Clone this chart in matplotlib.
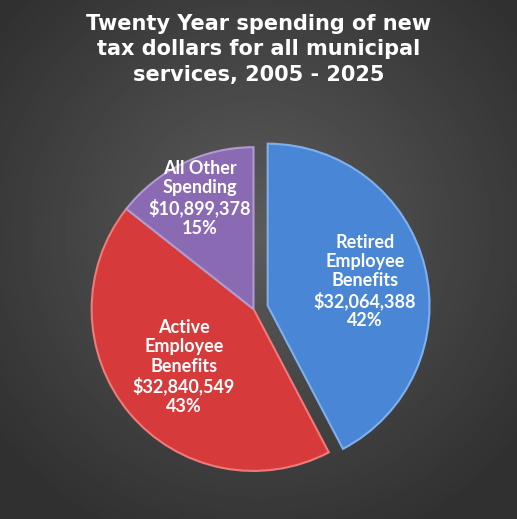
import numpy as np
import matplotlib.pyplot as plt

categories = ["Retired\nEmployee\nBenefits", "Active\nEmployee\nBenefits", "All Other\nSpending"]
amounts = [32064388, 32840549, 10899378]
percents = ["42%", "43%", "15%"]
colors = ["#4a86d6", "#d63a3a", "#8a6bb3"]
edges = ["#7fb0ee", "#ee7a7a", "#b09ad0"]
label_r = [0.62, 0.56, 0.76]

fig = plt.figure(figsize=(5.17, 5.19), dpi=100)

# radial grey background
bg = fig.add_axes([0, 0, 1, 1])
yy, xx = np.mgrid[-1:1:300j, -1:1:300j]
rr = np.sqrt(xx**2 + (yy + 0.1)**2)
bg.imshow(0.36 - 0.17 * np.clip(rr / 1.3, 0, 1), cmap="gray", vmin=0, vmax=1,
          extent=[0, 1, 0, 1], aspect="auto")
bg.axis("off")

fig.text(0.5, 0.905, "Twenty Year spending of new\ntax dollars for all municipal\nservices, 2005 - 2025",
         ha="center", va="center", color="white", fontsize=15, fontweight="bold",
         family="DejaVu Sans", linespacing=1.35)

ax = fig.add_axes([0.171, 0.071, 0.67, 0.667])
wedges, _ = ax.pie(amounts, colors=colors, startangle=90, counterclock=False,
                   explode=[0.09, 0, 0],
                   wedgeprops=dict(edgecolor="none", linewidth=1.5))
for w, ec in zip(wedges, edges):
    w.set_edgecolor(ec)

for w, cat, amt, pct, r in zip(wedges, categories, amounts, percents, label_r):
    mid = np.deg2rad((w.theta1 + w.theta2) / 2)
    cx, cy = w.center
    ax.text(cx + r * np.cos(mid), cy + r * np.sin(mid), f"{cat}\n${amt:,}\n{pct}",
            ha="center", va="center", color="white", fontsize=13,
            fontweight="bold", family="Lato", linespacing=1.15)
ax.set_xlim(-1.02, 1.12)
ax.set_ylim(-1.05, 1.05)
ax.set_aspect("equal")

fig.savefig("out.png", dpi=100)
